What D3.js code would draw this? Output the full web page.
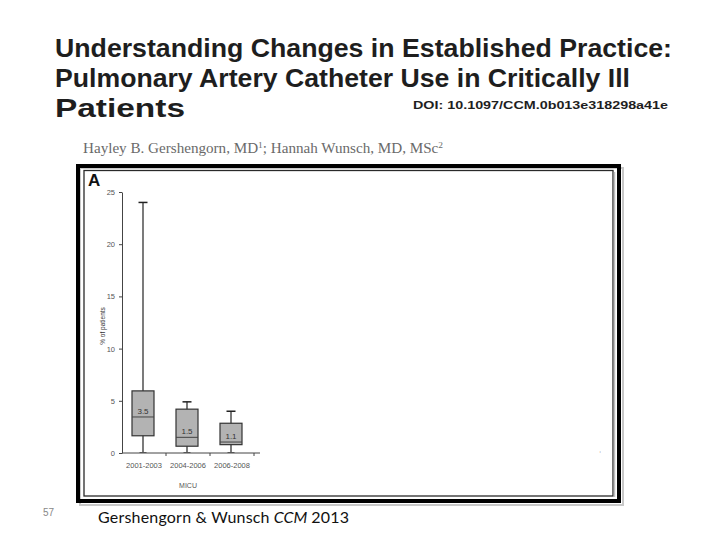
<!DOCTYPE html>
<html>
<head>
<meta charset="utf-8">
<script src="https://cdn.jsdelivr.net/npm/d3@7"></script>
<style>
  html, body { margin: 0; padding: 0; background: #fff; }
  svg { display: block; }
</style>
</head>
<body>
<svg id="chart" width="720" height="540"></svg>
<script>
// ---- data ----
const categories = ["2001-2003", "2004-2006", "2006-2008"];
const whiskerLow = [0, 0, 0];
const q1 = [1.65, 0.65, 0.8];
const median = [3.45, 1.5, 1.05];
const q3 = [5.95, 4.2, 2.85];
const whiskerHigh = [24, 4.9, 4.0];
const medianLabels = ["3.5", "1.5", "1.1"];
const yTicks = [0, 5, 10, 15, 20, 25];
const yDomain = [0, 25];
const titleLines = [
  "Understanding Changes in Established Practice:",
  "Pulmonary Artery Catheter Use in Critically Ill",
  "Patients"
];
const doiText = "DOI: 10.1097/CCM.0b013e318298a41e";
const xAxisTitle = "MICU";
const yAxisTitle = "% of patients";
const panelLabel = "A";
const slideNumber = "57";
const footerParts = [
  {t: "Gershengorn & Wunsch", it: false},
  {t: "CCM", it: true},
  {t: "2013", it: false}
];

const svg = d3.select("#chart");

// ---- slide title ----
const titleWidths = [617, 575, 130];
svg.selectAll("text.title").data(titleLines).enter().append("text")
  .attr("class", "title")
  .attr("x", 55)
  .attr("y", (d, i) => 57 + i * 30)
  .attr("font-family", "Liberation Sans, Arial, sans-serif")
  .attr("font-weight", "bold")
  .attr("font-size", 25.5)
  .attr("fill", "#1e1e1e")
  .attr("textLength", (d, i) => titleWidths[i])
  .attr("lengthAdjust", "spacingAndGlyphs")
  .text(d => d);

svg.append("text")
  .attr("x", 413).attr("y", 109)
  .attr("font-family", "Liberation Sans, Arial, sans-serif")
  .attr("font-weight", "bold").attr("font-size", 11.5)
  .attr("fill", "#1e1e1e")
  .attr("textLength", 255).attr("lengthAdjust", "spacingAndGlyphs")
  .text(doiText);

// ---- authors ----
const auth = svg.append("text")
  .attr("x", 83).attr("y", 153)
  .attr("font-family", "Liberation Serif, Times New Roman, serif")
  .attr("font-size", 14.5).attr("fill", "#6a6a6a")
  .attr("textLength", 360).attr("lengthAdjust", "spacingAndGlyphs");
auth.append("tspan").text("Hayley B. Gershengorn, MD");
auth.append("tspan").attr("font-size", 9).attr("dy", -5).text("1");
auth.append("tspan").attr("dy", 5).text("; Hannah Wunsch, MD, MSc");
auth.append("tspan").attr("font-size", 9).attr("dy", -5).text("2");

// ---- frames ----
svg.append("rect").attr("x", 80).attr("y", 168).attr("width", 543).attr("height", 337)
  .attr("fill", "none").attr("stroke", "#c8c8c8").attr("stroke-width", 2);
svg.append("rect").attr("x", 78).attr("y", 166).attr("width", 541).attr("height", 335)
  .attr("fill", "none").attr("stroke", "#000").attr("stroke-width", 4);
svg.append("rect").attr("x", 84).attr("y", 170.5).attr("width", 529).attr("height", 325.5)
  .attr("fill", "none").attr("stroke", "#2a2a2a").attr("stroke-width", 1.3);
svg.append("line").attr("x1", 614.5).attr("x2", 614.5).attr("y1", 172).attr("y2", 497)
  .attr("stroke", "#bdbdbd").attr("stroke-width", 1.5);

svg.append("text").attr("x", 88).attr("y", 186)
  .attr("font-family", "Liberation Sans, Arial, sans-serif")
  .attr("font-weight", "bold").attr("font-size", 17).attr("fill", "#111")
  .text(panelLabel);

// ---- scales ----
const y = d3.scaleLinear().domain(yDomain).range([453, 192]);
const x = d3.scaleBand().domain(categories).range([122, 254]).paddingInner(0).paddingOuter(0);

// ---- y axis ----
const yAxis = d3.axisLeft(y).tickValues(yTicks).tickSize(3).tickSizeOuter(0).tickPadding(4);
const gy = svg.append("g").attr("transform", "translate(122,0)").call(yAxis);
gy.select(".domain").attr("stroke", "#444").attr("stroke-width", 1);
gy.selectAll(".tick line").attr("stroke", "#444");
gy.selectAll(".tick text").attr("font-family", "Liberation Sans, Arial, sans-serif")
  .attr("font-size", 7.5).attr("fill", "#555");

// ---- x axis ----
const xAxis = d3.axisBottom(x).tickSize(0).tickPadding(10).tickSizeOuter(0);
const gx = svg.append("g").attr("transform", "translate(0,453)").call(xAxis);
gx.select(".domain").remove();
gx.selectAll(".tick text").attr("font-family", "Liberation Sans, Arial, sans-serif")
  .attr("font-size", 7.5).attr("fill", "#555");
svg.append("line").attr("x1", 122).attr("x2", 260).attr("y1", 453).attr("y2", 453)
  .attr("stroke", "#444").attr("stroke-width", 1);
svg.selectAll("line.sep").data(categories).enter().append("line")
  .attr("class", "sep")
  .attr("x1", d => x(d) + x.bandwidth()).attr("x2", d => x(d) + x.bandwidth())
  .attr("y1", 453).attr("y2", 456).attr("stroke", "#444");

svg.append("text").attr("x", (x.range()[0] + x.range()[1]) / 2).attr("y", 488)
  .attr("text-anchor", "middle")
  .attr("font-family", "Liberation Sans, Arial, sans-serif")
  .attr("font-size", 7).attr("fill", "#555").text(xAxisTitle);

svg.append("text")
  .attr("transform", "translate(105,326) rotate(-90)")
  .attr("text-anchor", "middle")
  .attr("font-family", "Liberation Sans, Arial, sans-serif")
  .attr("font-size", 6.5).attr("fill", "#333").text(yAxisTitle);

// ---- boxes ----
const boxW = x.bandwidth() * 0.5;
const rows = categories.map((c, i) => ({
  c, lo: whiskerLow[i], q1: q1[i], med: median[i], q3: q3[i], hi: whiskerHigh[i], lab: medianLabels[i]
}));
const cx = d => x(d.c) + x.bandwidth() / 2 - 1;
const g = svg.append("g");
const b = g.selectAll("g.box").data(rows).enter().append("g").attr("class", "box");

b.append("line").attr("x1", cx).attr("x2", cx)
  .attr("y1", d => y(d.hi)).attr("y2", d => y(d.lo))
  .attr("stroke", "#222").attr("stroke-width", 1.2);
b.append("line").attr("x1", d => cx(d) - 4.5).attr("x2", d => cx(d) + 4.5)
  .attr("y1", d => y(d.hi)).attr("y2", d => y(d.hi))
  .attr("stroke", "#222").attr("stroke-width", 1.5);
b.append("line").attr("x1", d => cx(d) - 3.5).attr("x2", d => cx(d) + 3.5)
  .attr("y1", d => y(d.lo) - 0.5).attr("y2", d => y(d.lo) - 0.5)
  .attr("stroke", "#555").attr("stroke-width", 1);
b.append("rect")
  .attr("x", d => cx(d) - boxW / 2).attr("width", boxW)
  .attr("y", d => y(d.q3)).attr("height", d => y(d.q1) - y(d.q3))
  .attr("fill", "#b3b3b3").attr("stroke", "#333").attr("stroke-width", 1.2);
b.append("line").attr("x1", d => cx(d) - boxW / 2).attr("x2", d => cx(d) + boxW / 2)
  .attr("y1", d => y(d.med)).attr("y2", d => y(d.med))
  .attr("stroke", "#444").attr("stroke-width", 1);
b.append("text").attr("x", cx).attr("y", d => y(d.med) - 3)
  .attr("text-anchor", "middle")
  .attr("font-family", "Liberation Sans, Arial, sans-serif")
  .attr("font-size", 8).attr("fill", "#333").text(d => d.lab);

// tiny mark at right
svg.append("text").attr("x", 599).attr("y", 457)
  .attr("font-family", "Liberation Sans, Arial, sans-serif")
  .attr("font-size", 7).attr("fill", "#555").text("ʾ");

// ---- footer ----
svg.append("text").attr("x", 43).attr("y", 516)
  .attr("font-family", "Liberation Sans, Arial, sans-serif")
  .attr("font-size", 10).attr("fill", "#888").text(slideNumber);
let fx = 98;
footerParts.forEach(p => {
  const t = svg.append("text")
    .attr("x", fx).attr("y", 523)
    .attr("font-family", "Lato, Open Sans, sans-serif")
    .attr("font-size", 16).attr("fill", "#111")
    .attr("font-style", p.it ? "italic" : "normal")
    .attr("letter-spacing", p.it ? 0 : 0.2)
    .text(p.t);
  fx += t.node().getComputedTextLength() + 4;
});
</script>
</body>
</html>
